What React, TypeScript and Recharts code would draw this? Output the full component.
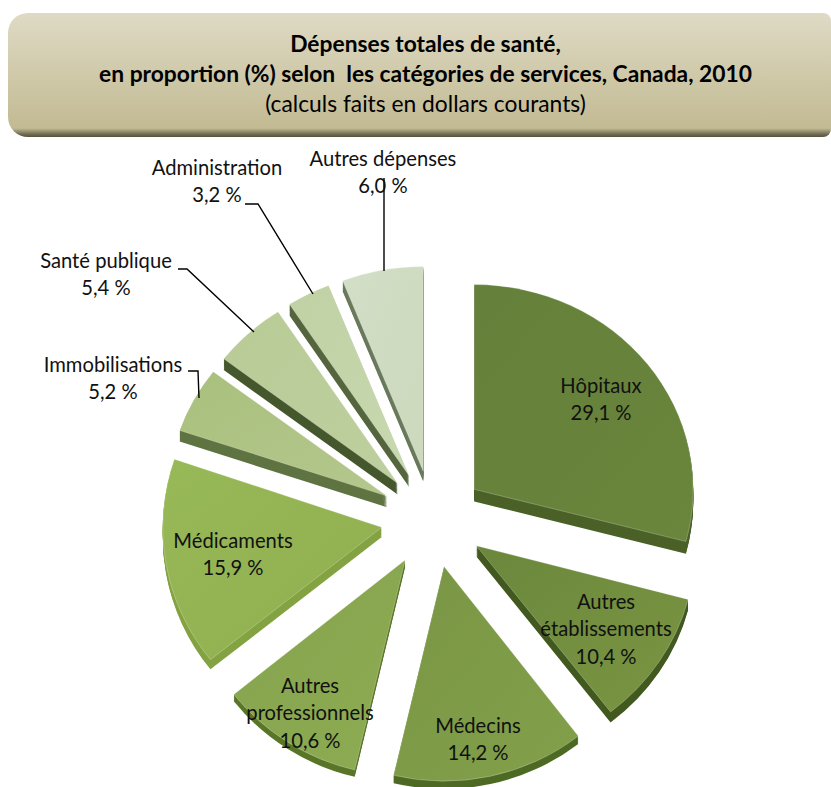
import React from 'react';
import { PieChart, Pie, Cell, Sector } from 'recharts';

const categories = ['Hôpitaux', 'Autres établissements', 'Médecins', 'Autres professionnels', 'Médicaments', 'Immobilisations', 'Santé publique', 'Administration', 'Autres dépenses'];
const labelLines = [['Hôpitaux'], ['Autres', 'établissements'], ['Médecins'], ['Autres', 'professionnels'], ['Médicaments'], ['Immobilisations'], ['Santé publique'], ['Administration'], ['Autres dépenses']];
const values = [29.1, 10.4, 14.2, 10.6, 15.9, 5.2, 5.4, 3.2, 6.0];
const faceTop = ['#64803a', '#6b873c', '#7a9645', '#86a44e', '#98b958', '#a9c07c', '#b9cb96', '#c0d1a4', '#d2dec6'];
const faceBottom = ['#6a863c', '#7a9642', '#82a04a', '#8dab52', '#90ae4e', '#b4c78e', '#bdcf9e', '#c8d8b0', '#cdd9bc'];
const sideColors = ['#4b6128', '#435a20', '#4e6a24', '#5a7628', '#84a343', '#5f7442', '#46582e', '#55663f', '#6a7a5c'];
const titleLines = ['Dépenses totales de santé,', 'en proportion (%) selon  les catégories de services, Canada, 2010', '(calculs faits en dollars courants)'];

// layout
const CX = 433;
const CY = 519;
const RADIUS = 219;
const SQUASH = 0.935;
const FACE_SQUASH = [0.935, 0.96, 0.98, 0.985, 0.97, 0.935, 0.935, 0.935, 0.935];
const EXPLODE = 52;
const DEPTH = [13, 11, 8, 7, 10, 12, 12, 12, 11];
const labelPos = [
  [168, -131], [173, 85], [45, 209], [-123, 169], [-200, 24], [-320, -152], [-327, -256], [-216, -349], [-50, -358],
];
const leaders = [
  null, null, null, null, null,
  [[188, 371], [198, 371], [199, 398]],
  [[178, 269], [187, 269], [254, 332]],
  [[245, 204], [258, 204], [313, 294]],
  [[384, 178], [384, 271]],
];

const data = categories.map((name, i) => ({ name, value: values[i] }));

const renderSlice = (props: any) => {
  const { cx, cy, outerRadius, startAngle, endAngle, index, fill } = props;
  const mid = ((startAngle + endAngle) / 2) * (Math.PI / 180);
  const dx = EXPLODE * Math.cos(mid);
  const dy = -EXPLODE * Math.sin(mid) * SQUASH;
  const layers = [];
  for (let d = DEPTH[index]; d >= 1; d--) {
    layers.push(
      <g key={d} transform={`translate(0,${d})`}>
        <Sector cx={cx} cy={cy} innerRadius={0} outerRadius={outerRadius} startAngle={startAngle} endAngle={endAngle} fill={sideColors[index]} stroke="none" />
      </g>
    );
  }
  return (
    <g transform={`translate(${dx},${dy}) translate(${cx},${cy}) scale(1,${FACE_SQUASH[index]}) translate(${-cx},${-cy})`}>
      {layers}
      <Sector cx={cx} cy={cy} innerRadius={0} outerRadius={outerRadius} startAngle={startAngle} endAngle={endAngle} fill={fill} stroke="#ffffff" strokeOpacity={0.25} strokeWidth={1} />
    </g>
  );
};

const renderLabel = (props: any) => {
  const i = props.index;
  const [ox, oy] = labelPos[i];
  const x = CX + ox;
  const y = CY + oy;
  const text = [...labelLines[i], `${values[i].toFixed(1).replace('.', ',')} %`];
  const leader = leaders[i];
  return (
    <g key={i}>
      {leader && <polyline points={leader.map((p) => p.join(',')).join(' ')} fill="none" stroke="#000" strokeWidth={1.4} />}
      <text x={x} y={y} textAnchor="middle" fontFamily="Lato" fontSize={20.2} fill="#111">
        {text.map((t, j) => (
          <tspan key={j} x={x} y={y + j * 27.3} dominantBaseline="middle">{t}</tspan>
        ))}
      </text>
    </g>
  );
};

export default function App() {
  return (
    <div style={{ position: 'absolute', left: 0, top: 0, width: 831, height: 787, overflow: 'hidden', background: '#fff' }}>
      <div
        style={{
          position: 'absolute', left: 8, top: 13, width: 823, height: 124, boxSizing: 'border-box',
          borderRadius: '20px 8px 8px 20px',
          background: 'linear-gradient(180deg,#dfdac5 0%,#c4bc95 88%,#c2ba92 93%,#6c674e 98%,#55523f 100%)',
        }}
      />
      <div style={{ position: 'absolute', left: 0, top: 28, width: 851, textAlign: 'center', fontFamily: 'Lato', fontSize: 22.8, lineHeight: '30px', color: '#000', whiteSpace: 'pre' }}>
        <div style={{ fontWeight: 700 }}>{titleLines[0]}</div>
        <div style={{ fontWeight: 700 }}>{titleLines[1]}</div>
        <div>{titleLines[2]}</div>
      </div>
      <div style={{ position: 'absolute', left: 0, top: 0 }}>
        <PieChart width={831} height={787} margin={{ top: 0, right: 0, bottom: 0, left: 0 }}>
          <defs>
            {faceTop.map((c, i) => (
              <linearGradient key={i} id={`face${i}`} x1="0" y1="0" x2="1" y2="1">
                <stop offset="0%" stopColor={c} />
                <stop offset="100%" stopColor={faceBottom[i]} />
              </linearGradient>
            ))}
          </defs>
          <Pie
            data={data}
            dataKey="value"
            nameKey="name"
            cx={CX}
            cy={CY}
            innerRadius={0}
            outerRadius={RADIUS}
            startAngle={90}
            endAngle={-270}
            paddingAngle={0}
            stroke="none"
            isAnimationActive={false}
            shape={renderSlice}
            label={renderLabel}
            labelLine={false}
          >
            {categories.map((c, i) => (
              <Cell key={c} fill={`url(#face${i})`} />
            ))}
          </Pie>
        </PieChart>
      </div>
    </div>
  );
}
